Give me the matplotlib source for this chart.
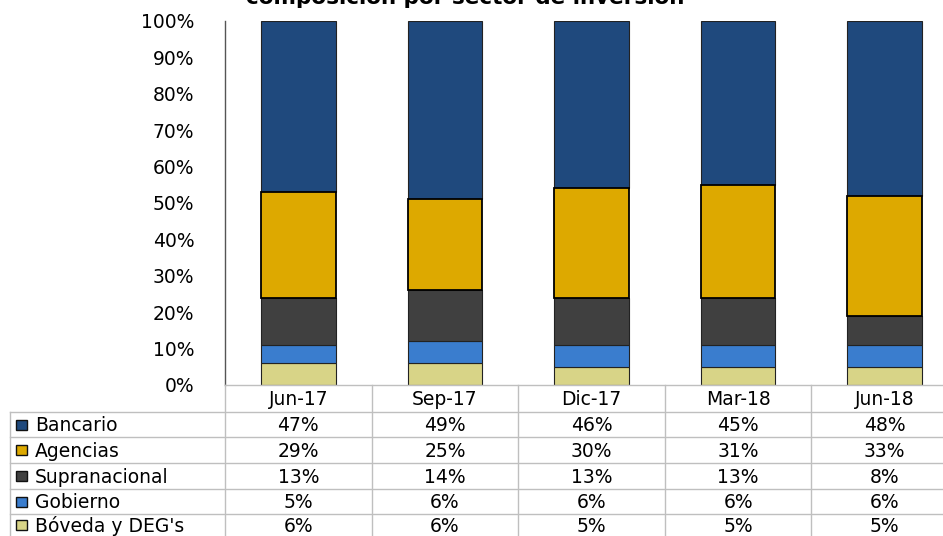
import matplotlib.pyplot as plt
import numpy as np
from matplotlib.patches import Rectangle

plt.rcParams['font.family'] = ['DejaVu Sans']

periods = ["Jun-17", "Sep-17", "Dic-17", "Mar-18", "Jun-18"]
series = ["Bancario", "Agencias", "Supranacional", "Gobierno", "Bóveda y DEG's"]
bancario = [47, 49, 46, 45, 48]
agencias = [29, 25, 30, 31, 33]
supranacional = [13, 14, 13, 13, 8]
gobierno = [5, 6, 6, 6, 6]
boveda = [6, 6, 5, 5, 5]

colors = {"Bancario": "#1F497D", "Agencias": "#DDA900", "Supranacional": "#404040",
          "Gobierno": "#3A7DCE", "Bóveda y DEG's": "#D8D487"}
values = {"Bancario": bancario, "Agencias": agencias, "Supranacional": supranacional,
          "Gobierno": gobierno, "Bóveda y DEG's": boveda}

W, H = 943, 536
fs = 13.5
fig = plt.figure(figsize=(W / 100, H / 100), dpi=100)
# axes in pixel terms: x 225..958, y 21..385
x0, x1, ytop, ybot = 225, 958, 21, 385
ax = fig.add_axes([x0 / W, (H - ybot) / H, (x1 - x0) / W, (ybot - ytop) / H])

x = np.arange(len(periods))
bottom = np.zeros(len(periods))
for name in series[::-1]:
    v = np.array(values[name], dtype=float)
    if name == "Agencias":
        ax.bar(x, v, 0.51, bottom=bottom, color=colors[name], edgecolor="black", linewidth=1.3, zorder=3)
    else:
        ax.bar(x, v, 0.51, bottom=bottom, color=colors[name], edgecolor="#222222", linewidth=0.8, zorder=2)
    bottom += v

ax.set_xlim(-0.5, len(periods) - 0.5)
ax.set_ylim(0, 100)
ax.set_yticks(np.arange(0, 101, 10))
ax.set_yticklabels([f"{t}%" for t in range(0, 101, 10)], fontsize=fs)
ax.tick_params(axis="y", length=0, pad=22)
ax.set_xticks([])
for s in ["top", "right", "bottom"]:
    ax.spines[s].set_visible(False)
ax.spines["left"].set_color("#555555")
ax.spines["left"].set_linewidth(1.0)

# data table below the axes (pixel coordinates via figure transform)
def fx(px):
    return px / W

def fy(py):
    return (H - py) / H

grid = "#BFBFBF"
col_w = (x1 - x0) / len(periods)
row_edges = [385, 411.7, 437.3, 463.3, 489, 514.3, 540]
left = 10

def hline(xa, xb, py):
    fig.add_artist(plt.Line2D([fx(xa), fx(xb)], [fy(py), fy(py)], color=grid, lw=1.0))

def vline(px, ya, yb):
    fig.add_artist(plt.Line2D([fx(px), fx(px)], [fy(ya), fy(yb)], color=grid, lw=1.0))

hline(x0, x1, row_edges[0])
for py in row_edges[1:-1]:
    hline(left, x1, py)
vline(left, row_edges[1], row_edges[-1])
for i in range(len(periods) + 1):
    vline(x0 + i * col_w, row_edges[0], row_edges[-1])

for i, p in enumerate(periods):
    cx = x0 + (i + 0.5) * col_w
    fig.text(fx(cx), fy((row_edges[0] + row_edges[1]) / 2 + 1), p, ha="center", va="center", fontsize=fs)
    for j, name in enumerate(series):
        cy = (row_edges[j + 1] + row_edges[j + 2]) / 2 + 1
        if j == len(series) - 1:
            cy -= 2
        fig.text(fx(cx), fy(cy), f"{values[name][i]}%", ha="center", va="center", fontsize=fs)

for j, name in enumerate(series):
    cy = (row_edges[j + 1] + row_edges[j + 2]) / 2
    if j == len(series) - 1:
        cy -= 2
    fig.add_artist(Rectangle((fx(16), fy(cy + 5)), 11 / W, 10 / H, transform=fig.transFigure,
                             facecolor=colors[name], edgecolor="#111111", lw=1.0))
    fig.text(fx(35), fy(cy + 1), name, ha="left", va="center", fontsize=fs)

fig.text(fx(465), fy(4), "composición por sector de inversión", ha="center", va="baseline",
         fontsize=15.5, fontweight="bold")

fig.savefig("out.png", dpi=100)
